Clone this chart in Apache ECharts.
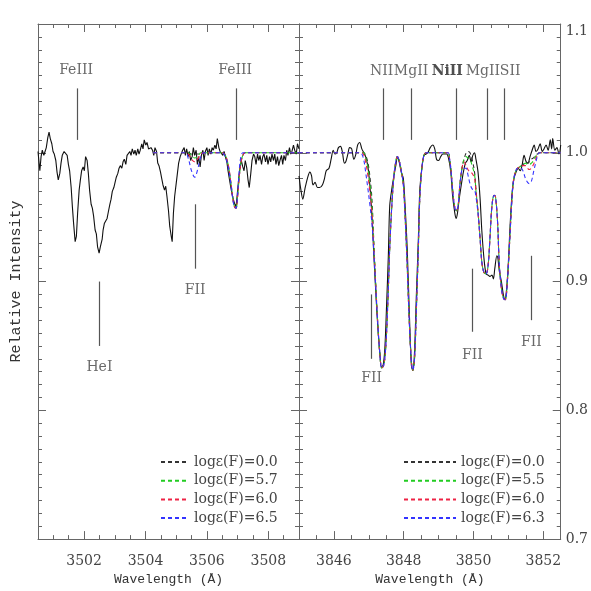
<!DOCTYPE html>
<html>
<head>
<meta charset="utf-8">
<script src="https://cdn.jsdelivr.net/npm/echarts@6/dist/echarts.min.js"></script>
<style>
  html, body { margin: 0; padding: 0; background: #fff; }
  #main { width: 591px; height: 591px; }
</style>
</head>
<body>
<div id="main"></div>
<script>
// ---- left panel: observed spectrum (3500.5 - 3509 A) ----
var obsLeftWl = [3500.50,3500.56,3500.60,3500.64,3500.69,3500.73,3500.77,3500.82,3500.86,3500.90,3500.95,3500.99,
  3501.03,3501.08,3501.12,3501.16,3501.21,3501.25,3501.29,3501.35,3501.40,3501.45,3501.49,3501.53,3501.58,3501.62,
  3501.66,3501.71,3501.75,3501.79,3501.84,3501.88,3501.92,3501.97,3502.01,3502.05,3502.10,3502.14,3502.18,3502.23,
  3502.27,3502.31,3502.36,3502.40,3502.44,3502.49,3502.53,3502.59,3502.62,3502.66,3502.71,3502.75,3502.79,3502.84,
  3502.88,3502.92,3502.97,3503.01,3503.05,3503.10,3503.14,3503.18,3503.23,3503.27,3503.31,3503.36,3503.40,3503.44,
  3503.49,3503.53,3503.57,3503.62,3503.66,3503.70,3503.75,3503.79,3503.83,3503.88,3503.92,3503.96,3504.01,3504.05,
  3504.10,3504.14,3504.18,3504.23,3504.27,3504.31,3504.36,3504.40,3504.44,3504.49,3504.53,3504.57,3504.62,3504.66,
  3504.70,3504.75,3504.79,3504.84,3504.87,3504.91,3504.95,3505.00,3505.04,3505.08,3505.13,3505.17,3505.21,3505.26,
  3505.30,3505.34,3505.39,3505.43,3505.47,3505.52,3505.56,3505.60,3505.65,3505.69,3505.73,3505.78,3505.82,3505.87,
  3505.91,3505.95,3506.00,3506.04,3506.08,3506.13,3506.17,3506.21,3506.26,3506.30,3506.34,3506.39,3506.43,3506.47,
  3506.52,3506.56,3506.60,3506.65,3506.69,3506.73,3506.78,3506.82,3506.86,3506.91,3506.95,3506.99,3507.04,3507.08,
  3507.12,3507.17,3507.21,3507.25,3507.30,3507.34,3507.38,3507.43,3507.47,3507.52,3507.56,3507.60,3507.65,3507.69,
  3507.73,3507.78,3507.82,3507.86,3507.91,3507.95,3507.99,3508.04,3508.08,3508.12,3508.17,3508.21,3508.25,3508.30,
  3508.34,3508.38,3508.43,3508.47,3508.51,3508.56,3508.60,3508.64,3508.69,3508.73,3508.77,3508.82,3508.86,3508.91,
  3508.95,3509.00];
var obsLeftVal = [1.001,0.986,0.997,1.002,0.998,1.001,1.004,1.012,1.016,1.011,1.007,1.001,
  0.999,0.994,0.985,0.979,0.984,0.992,0.998,1.001,1.002,0.998,0.991,0.986,0.973,0.958,
  0.945,0.931,0.935,0.953,0.971,0.979,0.986,0.989,0.986,0.997,0.994,0.984,0.971,0.960,
  0.957,0.951,0.940,0.937,0.927,0.922,0.927,0.933,0.940,0.945,0.944,0.949,0.954,0.960,
  0.964,0.970,0.973,0.977,0.981,0.984,0.988,0.990,0.988,0.993,0.995,0.991,0.998,0.997,
  1.001,0.998,1.003,0.999,1.002,0.998,1.003,0.999,1.002,1.007,1.003,1.010,1.006,1.008,
  1.003,1.002,1.004,1.002,0.998,1.004,1.001,0.992,0.990,0.985,0.980,0.975,0.971,0.974,
  0.966,0.955,0.943,0.935,0.931,0.953,0.966,0.976,0.984,0.992,0.997,0.998,1.002,1.004,
  0.998,1.003,0.997,1.001,0.994,0.997,1.004,0.998,1.002,0.991,0.997,0.989,0.998,1.002,
  0.994,1.001,1.004,0.998,1.003,0.999,1.004,1.002,1.006,1.003,1.011,1.004,1.001,1.002,
  0.998,1.001,0.997,0.993,0.986,0.980,0.973,0.968,0.964,0.960,0.958,0.968,0.981,0.989,
  0.994,0.989,0.986,0.994,0.988,0.979,0.973,0.984,0.994,0.999,0.997,0.991,0.999,0.994,
  0.998,0.991,0.997,0.999,0.993,0.998,0.991,0.997,0.993,0.999,0.994,0.999,0.991,0.997,
  0.990,0.994,0.998,0.991,0.998,0.994,1.002,0.998,1.004,0.999,1.001,1.006,1.002,0.999,
  1.007,1.003];

// ---- left panel: synthetic spectra ----
var synLeftWl = [3504.25,3505.30,3505.40,3505.50,3505.60,3505.70,3505.80,3505.90,3506.50,3506.60,3506.70,
  3506.78,3506.85,3506.90,3506.95,3507.00,3507.05,3507.10,3507.17,3507.25,3509.00];
var synLeft00 = [1.000,1.000,1.000,0.999,0.999,0.999,1.000,1.000,1.000,0.998,0.990,
  0.977,0.964,0.958,0.957,0.966,0.980,0.991,0.998,1.000,1.000];
var synLeft57 = [1.000,1.000,1.000,0.998,0.996,0.997,1.000,1.000,1.000,0.998,0.990,
  0.977,0.964,0.958,0.957,0.966,0.980,0.991,0.998,1.000,1.000];
var synLeft60 = [1.000,1.000,0.999,0.995,0.993,0.995,0.999,1.000,1.000,0.998,0.990,
  0.977,0.964,0.958,0.957,0.966,0.980,0.991,0.998,1.000,1.000];
var synLeft65 = [1.000,1.000,0.995,0.986,0.981,0.987,0.997,1.000,1.000,0.997,0.988,
  0.976,0.963,0.958,0.957,0.968,0.985,0.996,1.000,1.000,1.000];

// ---- right panel: observed spectrum (3845 - 3852.5 A) ----
var obsRightWl = [3845.00,3845.05,3845.11,3845.17,3845.24,3845.31,3845.36,3845.40,3845.46,3845.53,3845.59,3845.67,
  3845.73,3845.78,3845.86,3845.92,3845.98,3846.03,3846.08,3846.13,3846.19,3846.24,3846.30,3846.34,3846.40,3846.45,
  3846.51,3846.57,3846.63,3846.68,3846.74,3846.80,3846.86,3846.91,3846.97,3847.03,3847.09,3847.14,3847.20,3847.26,
  3847.32,3847.36,3847.41,3847.46,3847.51,3847.56,3847.60,3847.66,3847.72,3847.78,3847.82,3847.87,3847.93,3847.99,
  3848.04,3848.10,3848.16,3848.22,3848.26,3848.31,3848.36,3848.42,3848.46,3848.52,3848.58,3848.64,3848.69,3848.76,
  3848.83,3848.89,3848.94,3849.00,3849.06,3849.12,3849.17,3849.23,3849.29,3849.35,3849.40,3849.46,3849.50,3849.54,
  3849.59,3849.65,3849.71,3849.77,3849.82,3849.88,3849.93,3849.98,3850.03,3850.07,3850.13,3850.19,3850.24,3850.30,
  3850.36,3850.42,3850.47,3850.53,3850.57,3850.61,3850.67,3850.70,3850.74,3850.80,3850.86,3850.90,3850.93,3850.99,
  3851.05,3851.11,3851.16,3851.22,3851.28,3851.34,3851.39,3851.45,3851.51,3851.56,3851.62,3851.68,3851.74,3851.79,
  3851.85,3851.91,3851.97,3852.02,3852.08,3852.14,3852.20,3852.24,3852.27,3852.33,3852.39,3852.45,3852.50];
var obsRightVal = [0.982,0.972,0.964,0.972,0.980,0.985,0.982,0.975,0.977,0.973,0.973,0.975,
  0.980,0.986,0.988,0.995,1.002,0.999,1.000,1.004,1.005,1.001,0.992,0.993,0.999,1.004,
  1.003,0.995,0.999,1.006,1.008,1.003,1.000,0.997,0.990,0.975,0.951,0.923,0.892,0.864,
  0.843,0.834,0.835,0.848,0.882,0.920,0.959,0.972,0.982,0.991,0.997,0.993,0.985,0.980,
  0.959,0.926,0.877,0.835,0.831,0.845,0.887,0.933,0.970,0.988,0.998,0.999,1.000,1.004,
  1.006,1.003,0.995,0.994,0.997,0.999,0.999,0.999,0.995,0.985,0.967,0.954,0.949,0.953,
  0.964,0.975,0.985,0.992,0.994,0.998,0.993,0.998,1.000,0.995,0.985,0.964,0.939,0.918,
  0.906,0.905,0.904,0.905,0.902,0.910,0.920,0.918,0.908,0.900,0.889,0.886,0.889,0.910,
  0.944,0.970,0.980,0.985,0.988,0.986,0.990,0.998,0.993,0.992,0.997,1.002,1.006,1.001,
  1.003,1.007,1.001,1.003,1.006,1.002,1.010,1.003,1.011,1.002,1.004,0.999,1.006];

// ---- right panel: synthetic spectra ----
var synRightWl = [3845.00,3846.74,3846.80,3846.86,3846.91,3846.97,3847.03,3847.09,3847.14,3847.20,3847.26,3847.32,
  3847.37,3847.43,3847.49,3847.55,3847.60,3847.66,3847.72,3847.78,3847.82,3847.87,3847.93,3847.99,3848.04,3848.10,
  3848.16,3848.22,3848.26,3848.31,3848.36,3848.42,3848.46,3848.52,3848.58,3848.64,3849.27,3849.31,3849.35,3849.40,
  3849.46,3849.51,3849.56,3849.61,3849.67,3849.73,3849.79,3849.84,3849.90,3849.96,3850.03,3850.07,3850.13,3850.19,
  3850.24,3850.30,3850.36,3850.42,3850.47,3850.53,3850.59,3850.63,3850.69,3850.74,3850.80,3850.86,3850.91,3850.97,
  3851.03,3851.09,3851.14,3851.20,3851.26,3851.32,3851.37,3851.43,3851.49,3851.55,3851.60,3851.66,3851.72,3851.78,
  3851.83,3851.89,3852.50];
var synRight00 = [1.000,1.000,1.000,1.000,0.998,0.993,0.982,0.964,0.933,0.897,0.866,0.843,
  0.833,0.835,0.851,0.887,0.926,0.959,0.982,0.994,0.997,0.994,0.986,0.975,0.951,0.913,
  0.869,0.838,0.831,0.840,0.876,0.926,0.964,0.988,0.998,1.000,1.000,0.996,0.988,0.972,
  0.958,0.955,0.959,0.975,0.988,0.995,1.000,1.001,1.000,0.995,0.985,0.972,0.954,0.933,
  0.915,0.907,0.906,0.913,0.933,0.959,0.967,0.966,0.946,0.913,0.895,0.887,0.886,0.900,
  0.928,0.959,0.977,0.985,0.988,0.989,0.990,0.991,0.993,0.992,0.993,0.995,0.996,0.998,
  0.999,1.000,1.000];
var synRight55 = [1.000,1.000,1.000,1.000,0.996,0.989,0.976,0.958,0.931,0.897,0.866,0.843,
  0.833,0.835,0.851,0.887,0.926,0.959,0.982,0.994,0.997,0.994,0.986,0.975,0.951,0.913,
  0.869,0.838,0.831,0.840,0.876,0.926,0.964,0.988,0.998,1.000,1.000,0.996,0.988,0.972,
  0.958,0.955,0.959,0.975,0.988,0.995,0.997,0.996,0.995,0.990,0.983,0.971,0.954,0.933,
  0.915,0.907,0.906,0.913,0.933,0.959,0.967,0.966,0.946,0.913,0.895,0.887,0.886,0.900,
  0.928,0.959,0.977,0.985,0.988,0.989,0.990,0.991,0.992,0.991,0.991,0.992,0.994,0.997,
  0.999,1.000,1.000];
var synRight60 = [1.000,1.000,1.000,0.998,0.993,0.983,0.970,0.953,0.929,0.897,0.866,0.843,
  0.833,0.835,0.851,0.887,0.926,0.959,0.982,0.994,0.997,0.994,0.986,0.975,0.951,0.913,
  0.869,0.838,0.831,0.840,0.876,0.926,0.964,0.988,0.998,1.000,1.000,0.996,0.988,0.972,
  0.958,0.955,0.959,0.975,0.988,0.993,0.990,0.987,0.985,0.984,0.980,0.970,0.954,0.933,
  0.915,0.907,0.906,0.913,0.933,0.959,0.967,0.966,0.946,0.913,0.895,0.887,0.886,0.900,
  0.928,0.959,0.977,0.985,0.988,0.989,0.990,0.990,0.990,0.988,0.987,0.988,0.991,0.995,
  0.998,1.000,1.000];
var synRight63 = [1.000,1.000,0.999,0.994,0.985,0.973,0.960,0.945,0.925,0.895,0.866,0.843,
  0.833,0.835,0.851,0.887,0.926,0.959,0.982,0.994,0.997,0.994,0.986,0.975,0.951,0.913,
  0.869,0.838,0.831,0.840,0.876,0.926,0.964,0.988,0.998,1.000,1.000,0.996,0.988,0.972,
  0.958,0.955,0.959,0.975,0.987,0.988,0.988,0.983,0.976,0.972,0.971,0.966,0.953,0.933,
  0.915,0.907,0.906,0.913,0.933,0.959,0.967,0.966,0.946,0.913,0.895,0.887,0.886,0.900,
  0.928,0.959,0.977,0.985,0.988,0.988,0.988,0.985,0.980,0.977,0.976,0.978,0.985,0.992,
  0.997,1.000,1.000];

// ---- line identifications: [wavelength, y bottom, y top, label wl, label y, text] ----
var idsLeft = [
  [3501.77, 1.010, 1.050, 3501.74, 1.064, 'FeIII'],
  [3506.95, 1.010, 1.050, 3506.92, 1.064, 'FeIII'],
  [3502.51, 0.850, 0.900, 3502.50, 0.833, 'HeI'],
  [3505.62, 0.910, 0.960, 3505.62, 0.893, 'FII']
];
var idsRight = [
  [3847.40, 1.010, 1.050, 3847.37, 1.063, 'NII'],
  [3848.21, 1.010, 1.050, 3848.21, 1.063, 'MgII'],
  [3849.50, 1.010, 1.050, 3849.25, 1.063, 'NiII'],
  [3850.39, 1.010, 1.050, 3850.27, 1.063, 'MgII'],
  [3850.89, 1.010, 1.050, 3851.05, 1.063, 'SII'],
  [3847.08, 0.840, 0.890, 3847.08, 0.825, 'FII'],
  [3849.97, 0.861, 0.910, 3849.97, 0.843, 'FII'],
  [3851.66, 0.870, 0.920, 3851.66, 0.853, 'FII']
];

var leftNames = ['logε(F)=0.0', 'logε(F)=5.7', 'logε(F)=6.0', 'logε(F)=6.5'];
var rightNames = ['logε(F)=0.0', 'logε(F)=5.5', 'logε(F)=6.0', 'logε(F)=6.3'];
var synColors = ['#333333', '#22cc22', '#ee2244', '#3333ff'];

var leftMajor = [3502, 3504, 3506, 3508];
var rightMajor = [3846, 3848, 3850, 3852];

function zip(a, b) { return a.map(function (v, i) { return [v, b[i]]; }); }

var axisColor = '#666';
var textColor = '#444';
var serif = 'DejaVu Serif';

function xAxes(grid, min, max, major) {
  var base = { type: 'value', gridIndex: grid, min: min, max: max, interval: 0.5, splitLine: { show: false } };
  return [
    Object.assign({}, base, {
      position: 'bottom',
      axisLine: { lineStyle: { color: axisColor } },
      axisTick: { inside: true, length: 4, lineStyle: { color: axisColor } },
      axisLabel: { customValues: major, margin: 15, color: textColor, fontFamily: serif, fontSize: 14,
        formatter: function (v) { return String(v); } },
      name: 'Wavelength (Å)', nameLocation: 'middle', nameGap: 26,
      nameTextStyle: { fontFamily: 'Liberation Mono', fontSize: 13, color: '#333' }
    }),
    Object.assign({}, base, {
      position: 'bottom',
      axisLine: { show: false },
      axisTick: { inside: true, length: 8, customValues: major, lineStyle: { color: axisColor } },
      axisLabel: { show: false }
    }),
    Object.assign({}, base, {
      position: 'top',
      axisLine: { lineStyle: { color: axisColor } },
      axisTick: { inside: true, length: 4, lineStyle: { color: axisColor } },
      axisLabel: { show: false }
    }),
    Object.assign({}, base, {
      position: 'top',
      axisLine: { show: false },
      axisTick: { inside: true, length: 8, customValues: major, lineStyle: { color: axisColor } },
      axisLabel: { show: false }
    })
  ];
}

function yAxis(grid, pos, labels, name) {
  var a = {
    type: 'value', gridIndex: grid, position: pos, min: 0.7, max: 1.1, interval: 0.1,
    splitLine: { show: false },
    axisLine: { show: true, lineStyle: { color: axisColor } },
    axisTick: { inside: true, length: 8, lineStyle: { color: axisColor } },
    minorTick: { show: true, splitNumber: 10, length: 4, lineStyle: { color: axisColor } },
    axisLabel: {
      show: labels, margin: 5, color: textColor, fontFamily: serif, fontSize: 14,
      verticalAlignMaxLabel: 'top',
      formatter: function (v) { return v.toFixed(1); }
    }
  };
  if (name) {
    a.name = name;
    a.nameLocation = 'middle';
    a.nameGap = 14;
    a.nameTextStyle = { fontFamily: 'Liberation Mono', fontSize: 15, color: '#333' };
  }
  return a;
}

function idSeries(ids, xi, yi) {
  return [{
    type: 'line', xAxisIndex: xi, yAxisIndex: yi, data: [], silent: true,
    markLine: {
      silent: true, symbol: ['none', 'none'], animation: false,
      label: { show: false },
      lineStyle: { type: 'solid', color: '#555', width: 1.2 },
      data: ids.map(function (d) { return [{ coord: [d[0], d[1]] }, { coord: [d[0], d[2]] }]; })
    }
  }, {
    type: 'scatter', xAxisIndex: xi, yAxisIndex: yi, symbolSize: 0, silent: true,
    data: ids.map(function (d) { return { value: [d[3], d[4]], name: d[5] }; }),
    label: { show: true, position: 'inside', formatter: '{b}', color: textColor, fontFamily: serif, fontSize: 14 },
    labelLayout: { hideOverlap: false }
  }];
}

function synSeries(names, wl, vals, xi, yi) {
  return vals.map(function (v, i) {
    return {
      name: names[i], type: 'line', xAxisIndex: xi, yAxisIndex: yi, data: zip(wl, v),
      symbol: 'none', smooth: 0.35, color: synColors[i],
      lineStyle: { color: synColors[i], width: 1.1, type: [4, 3] }
    };
  });
}

var chart = echarts.init(document.getElementById('main'));
var series = [
  { type: 'line', xAxisIndex: 0, yAxisIndex: 0, data: zip(obsLeftWl, obsLeftVal), symbol: 'none',
    lineStyle: { color: '#111', width: 1.1 } },
  { type: 'line', xAxisIndex: 4, yAxisIndex: 2, data: zip(obsRightWl, obsRightVal), symbol: 'none', smooth: 0.3,
    lineStyle: { color: '#111', width: 1.1 } }
].concat(
  synSeries(leftNames, synLeftWl, [synLeft00, synLeft57, synLeft60, synLeft65], 0, 0),
  synSeries(rightNames, synRightWl, [synRight00, synRight55, synRight60, synRight63], 4, 2),
  idSeries(idsLeft, 0, 0),
  idSeries(idsRight, 4, 2)
);
// NiII is printed in bold
series[series.length - 1].data[2].label = { fontWeight: 'bold', color: '#222' };

var legendBase = {
  orient: 'vertical', top: 455, padding: 0, itemHeight: 14, itemGap: 4.7, selectedMode: false,
  itemStyle: { opacity: 0 },
  textStyle: { fontFamily: serif, fontSize: 14, color: textColor }
};

chart.setOption({
  animation: false,
  backgroundColor: '#fff',
  grid: [
    { left: 38, top: 24, width: 261, height: 518 },
    { left: 299, top: 24, width: 262, height: 518 }
  ],
  xAxis: xAxes(0, 3500.5, 3509, leftMajor).concat(xAxes(1, 3845, 3852.5, rightMajor)),
  yAxis: [
    yAxis(0, 'left', false, 'Relative Intensity'),
    yAxis(0, 'right', false),
    yAxis(1, 'left', false),
    yAxis(1, 'right', true)
  ],
  legend: [
    Object.assign({}, legendBase, { data: leftNames, left: 160, itemWidth: 28 }),
    Object.assign({}, legendBase, { data: rightNames, left: 403, itemWidth: 52 })
  ],
  series: series
});
</script>
</body>
</html>
